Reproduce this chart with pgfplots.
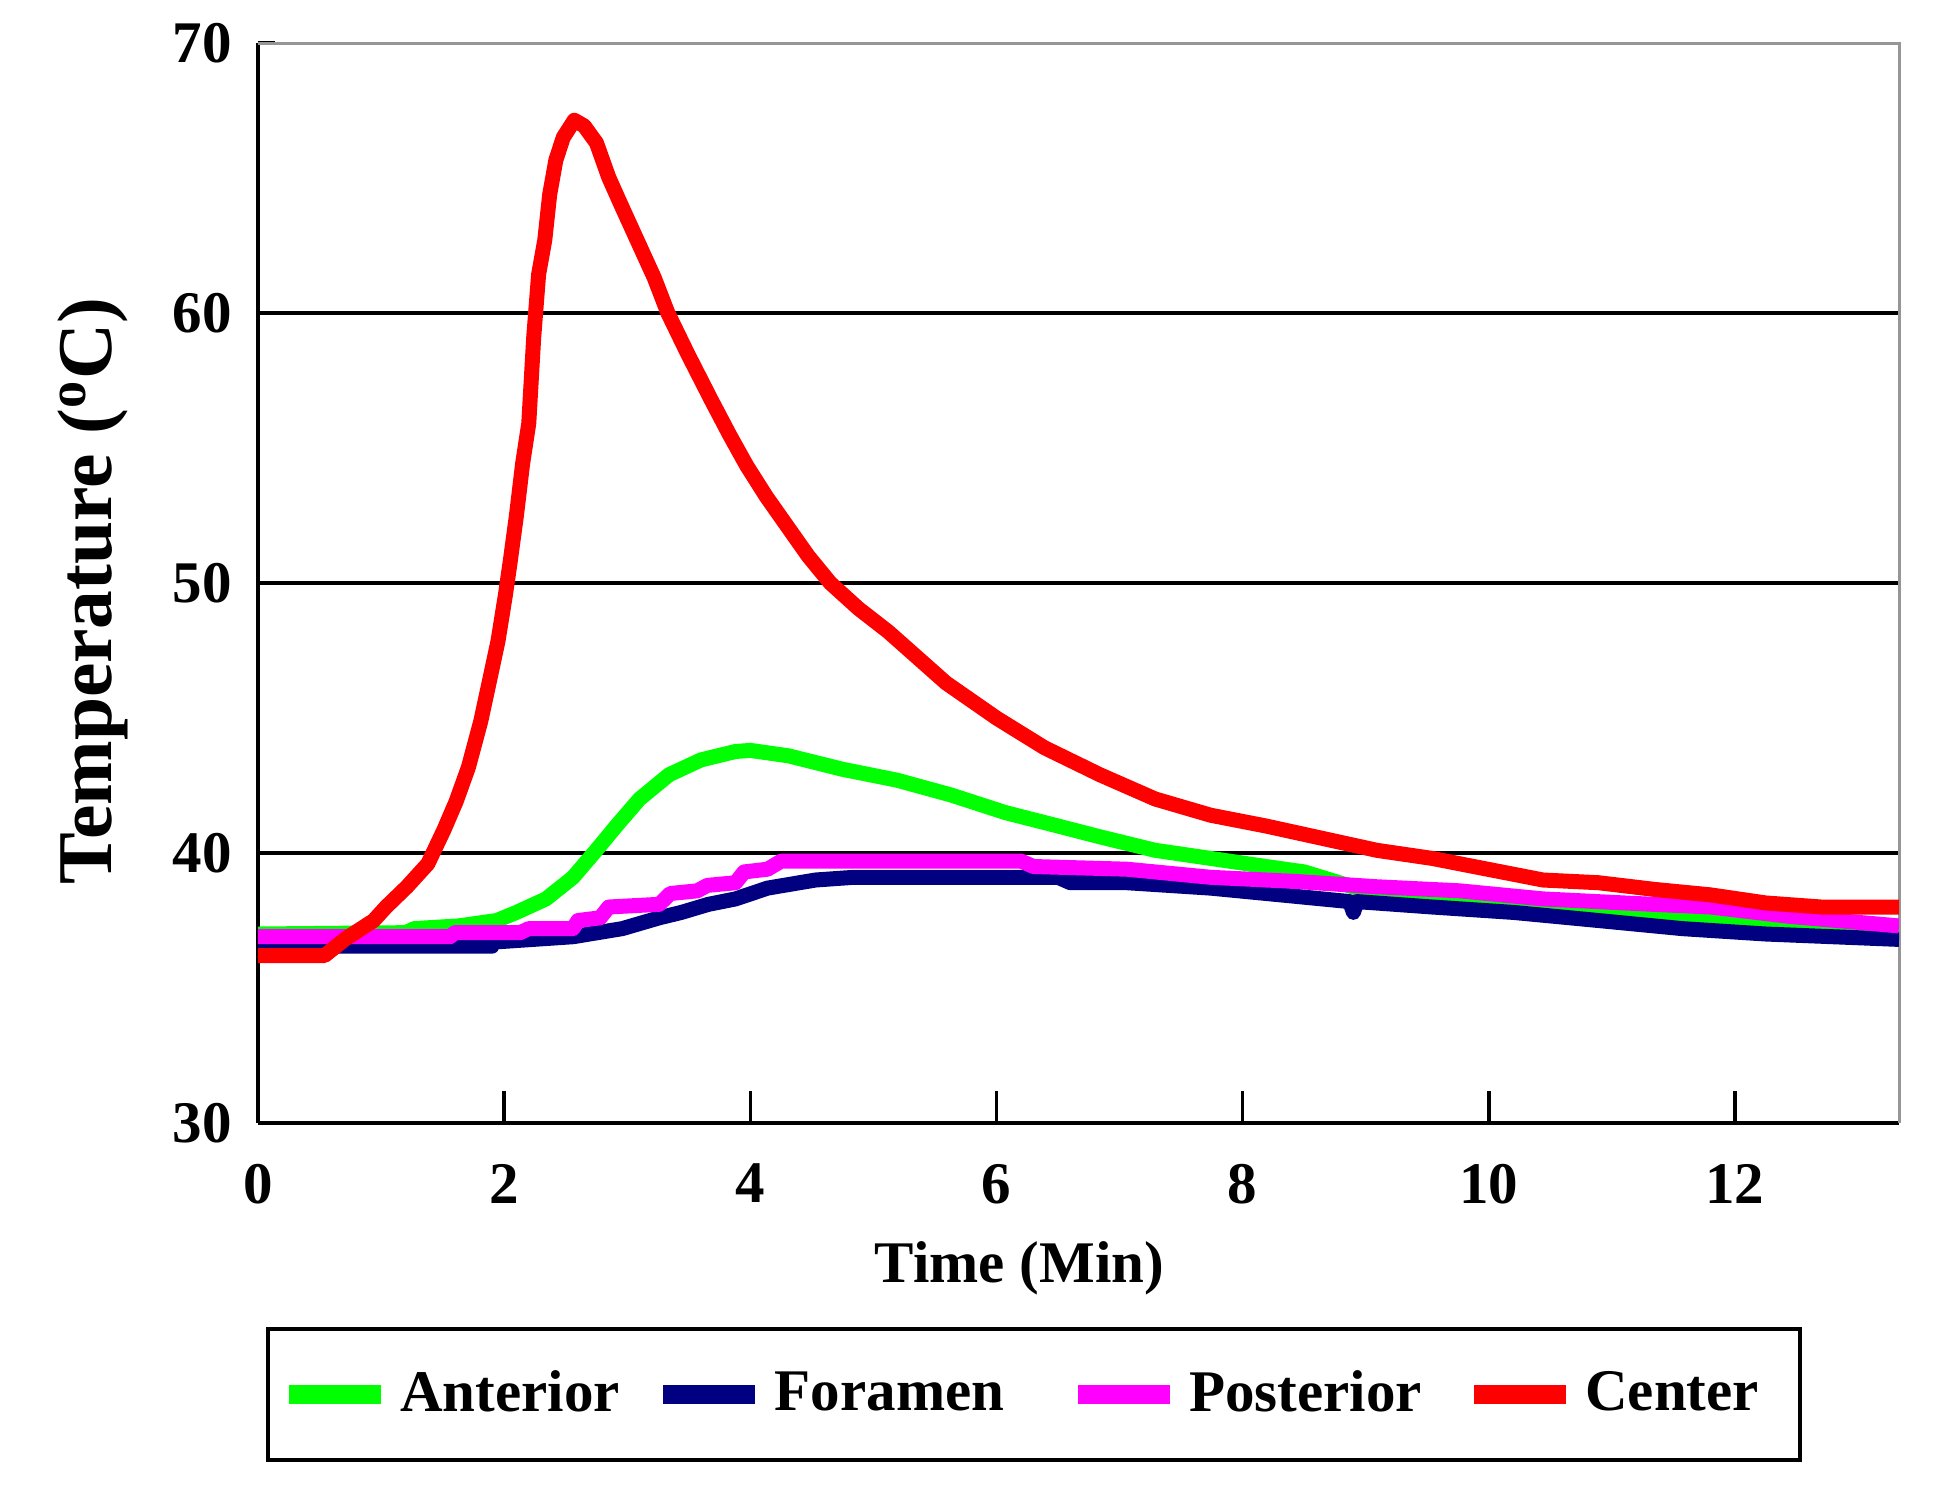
\documentclass[border=0pt]{standalone}
\usepackage{fontspec}
\setmainfont{Liberation Serif}
\usepackage{pgfplots}
\pgfplotsset{compat=1.18}
\definecolor{cgreen}{RGB}{0,255,0}
\definecolor{cnavy}{RGB}{0,0,128}
\definecolor{cmag}{RGB}{255,0,255}
\definecolor{cred}{RGB}{255,0,0}
\definecolor{bordergray}{RGB}{150,150,150}
\newcommand{\tfont}{\fontsize{11.8}{14}\selectfont\bfseries}
\begin{document}
\begin{tikzpicture}
\useasboundingbox (-51.6pt,-75.4pt) rectangle (338.4pt,224.6pt);
\begin{axis}[
  scale only axis, width=328.2pt, height=216.0pt,
  xmin=0, xmax=13.333, ymin=30, ymax=70,
  axis x line*=bottom, axis y line*=left,
  axis line style={black, line width=0.7pt},
  xtick={0,2,...,12}, ytick={30,40,...,70},
  tick align=inside,
  xtick style={black, line width=0.7pt, /pgfplots/major tick length=6.4pt},
  ytick style={black, line width=0.7pt, /pgfplots/major tick length=3.5pt},
  extra y ticks={40,50,60}, extra y tick labels={},
  extra y tick style={grid=major, major grid style={black, line width=0.7pt}},
  ticklabel style={font=\tfont},
  /pgf/number format/assume math mode=true,
  xticklabel style={anchor=north, inner sep=0pt, yshift=-8pt},
  yticklabel style={anchor=east, inner sep=0pt, xshift=-5pt},
  xlabel={Time (Min)},
  xlabel style={at={(axis description cs:0.464,0)}, anchor=north, yshift=-23.5pt, font=\tfont, inner sep=0pt},
  ylabel={Temperature (\textsuperscript{o}C)},
  ylabel style={at={(axis description cs:-0.1005,0.4926)}, anchor=center, font=\fontsize{15.5}{18}\selectfont\bfseries, inner sep=0pt},
  clip mode=individual,
  legend columns=4,
  legend cell align=left,
  legend style={at={(axis description cs:0.0048,-0.1888)}, anchor=north west, draw=black, line width=0.8pt, inner xsep=2.3pt, inner ysep=6.3pt, font=\tfont,
    /tikz/every odd column/.append style={column sep=0pt},
    /tikz/every even column/.append style={column sep=0pt}},
  legend image code/.code={\draw[#1, line width=3.8pt] (0pt,0pt) -- (18.4pt,0pt);},
  every axis plot/.append style={line width=3pt, line join=round},
]
\draw[bordergray, line width=0.6pt] (rel axis cs:0,1) -- (rel axis cs:1,1) -- (rel axis cs:1,0);

% Anterior
\addplot[cgreen] coordinates {
(0,37.0) (1.2,37.05) (1.27,37.2) (1.63,37.3) (1.94,37.5) (2.1,37.8) (2.34,38.3)
(2.56,39.1) (2.74,40.06) (2.92,41.05) (3.1,42.0) (3.34,42.9) (3.6,43.45) (3.88,43.76)
(4.0,43.8) (4.31,43.6) (4.75,43.1) (5.19,42.7) (5.63,42.15) (6.07,41.5) (6.5,41.0)
(6.84,40.6) (7.29,40.1) (7.74,39.8) (8.19,39.5) (8.5,39.3) (9.0,38.6) (9.5,38.3)
(10.0,38.1) (10.5,37.9) (11.0,37.7) (11.5,37.55) (11.93,37.5) (12.5,37.3) (13.333,37.1)
};
\addlegendentry{\makebox[48.7pt][l]{Anterior}}

% Foramen
\addplot[cnavy] coordinates {
(0,36.55) (1.9,36.55) (1.91,36.7) (2.56,36.9) (2.96,37.2) (3.26,37.6) (3.44,37.8)
(3.66,38.1) (3.88,38.3) (4.14,38.7) (4.53,39.0) (4.84,39.1) (6.5,39.1) (6.6,38.9)
(7.06,38.9) (7.74,38.7) (8.42,38.4) (8.87,38.2) (8.9,37.8) (8.93,38.2) (9.54,38.0)
(10.2,37.8) (10.89,37.5) (11.57,37.2) (12.25,37.0) (13.333,36.8)
};
\addlegendentry{\makebox[56.7pt][l]{Foramen}}

% Posterior
\addplot[cmag] coordinates {
(0,36.9) (1.56,36.9) (1.6,37.05) (2.13,37.05) (2.2,37.2) (2.56,37.2) (2.6,37.5)
(2.78,37.6) (2.85,38.0) (3.26,38.1) (3.35,38.5) (3.57,38.6) (3.65,38.8) (3.88,38.9)
(3.95,39.3) (4.14,39.4) (4.25,39.7) (6.2,39.7) (6.3,39.5) (7.06,39.4) (7.74,39.1)
(8.42,38.95) (9.09,38.75) (9.76,38.6) (10.44,38.3) (11.1,38.15) (11.8,38.0)
(12.45,37.65) (13.333,37.3)
};
\addlegendentry{\makebox[53pt][l]{Posterior}}

% Center
\addplot[cred] coordinates {
(0,36.2) (0.54,36.2) (0.71,36.82) (0.94,37.5) (1.04,38.0) (1.21,38.75) (1.38,39.6)
(1.51,40.85) (1.61,41.91) (1.71,43.18) (1.81,44.88) (1.88,46.36) (1.95,47.85)
(2.01,49.55) (2.05,50.82) (2.1,52.51) (2.15,54.42) (2.2,55.91) (2.24,59.09)
(2.28,61.43) (2.33,62.7) (2.37,64.39) (2.42,65.66) (2.48,66.5) (2.57,67.14)
(2.65,66.93) (2.75,66.3) (2.85,65.02) (2.95,64.0) (3.09,62.6) (3.22,61.3)
(3.33,60.0) (3.49,58.5) (3.68,56.8) (3.83,55.5) (3.97,54.35) (4.13,53.2)
(4.30,52.1) (4.47,51.0) (4.65,50.0) (4.88,49.05) (5.12,48.2)
(5.59,46.3) (6.0,45.0) (6.39,43.9) (6.84,42.9) (7.29,42.0) (7.74,41.4) (8.19,41.0)
(8.64,40.55) (9.09,40.1) (9.54,39.8) (9.99,39.4) (10.44,39.0) (10.89,38.9)
(11.35,38.65) (11.8,38.45) (12.25,38.15) (12.7,38.0) (13.333,38.0)
};
\addlegendentry{\makebox[38.7pt][l]{Center}}
\end{axis}
\end{tikzpicture}
\end{document}
